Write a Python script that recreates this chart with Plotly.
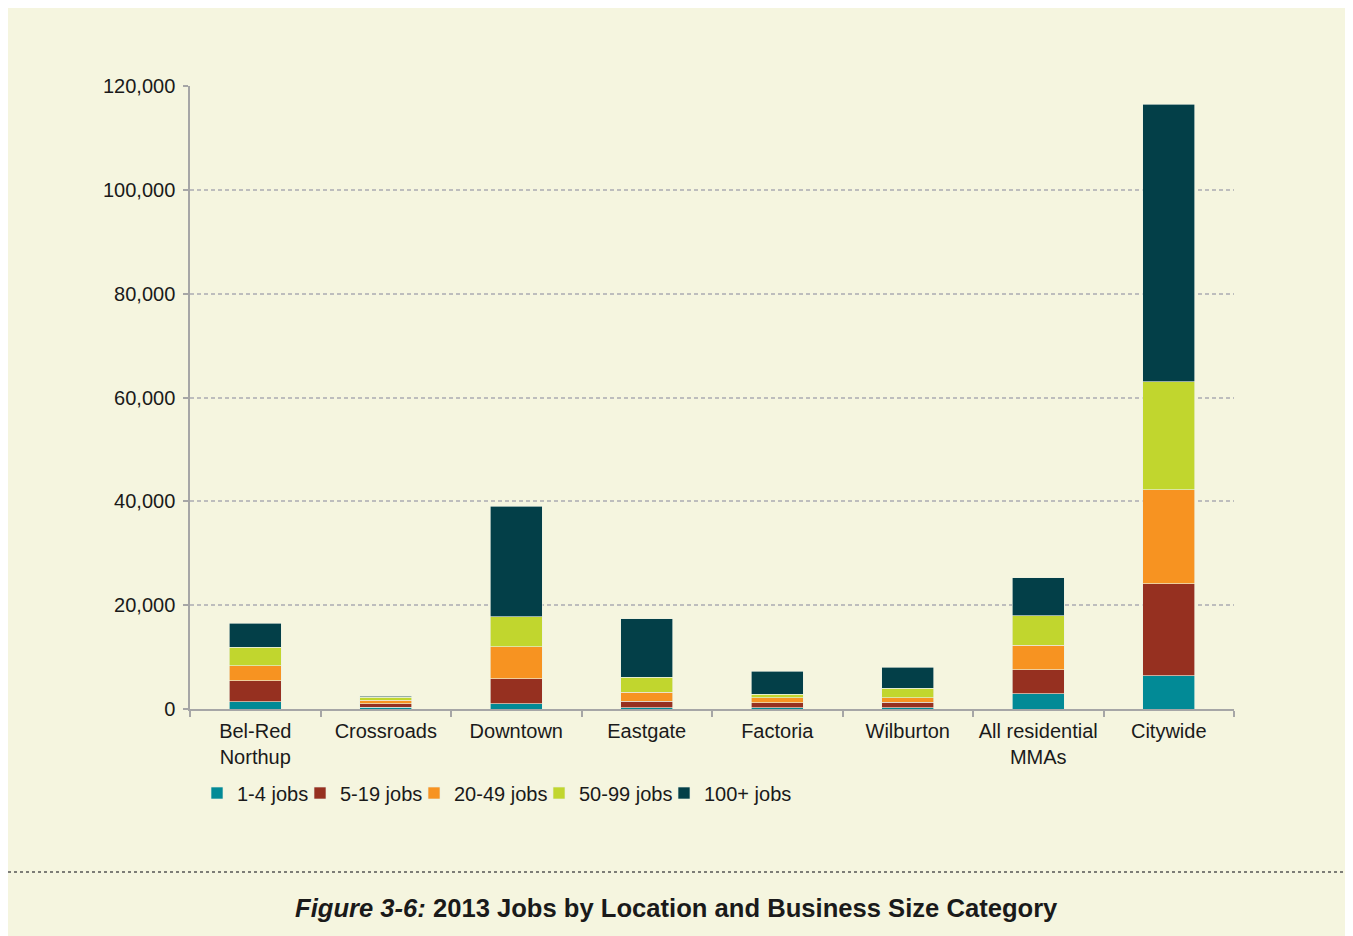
import plotly.graph_objects as go

categories = ["Bel-Red<br>Northup", "Crossroads", "Downtown", "Eastgate", "Factoria",
              "Wilburton", "All residential<br>MMAs", "Citywide"]

jobs_1_4 = [1350, 330, 1030, 270, 270, 270, 2950, 6420]
jobs_5_19 = [4100, 700, 4760, 1270, 890, 1020, 4630, 17700]
jobs_20_49 = [2900, 700, 6230, 1730, 960, 830, 4690, 18100]
jobs_50_99 = [3500, 500, 5730, 2830, 710, 1870, 5730, 20800]
jobs_100_plus = [4700, 250, 21300, 11300, 4490, 4100, 7330, 53500]

series_names = ["1-4 jobs", "5-19 jobs", "20-49 jobs", "50-99 jobs", "100+ jobs"]
series_values = [jobs_1_4, jobs_5_19, jobs_20_49, jobs_50_99, jobs_100_plus]
series_colors = ["#028A96", "#963020", "#F79321", "#C1D62E", "#033F48"]

y_ticks = [0, 20000, 40000, 60000, 80000, 100000, 120000]

FONT = "Arial, 'Liberation Sans', sans-serif"
BEIGE = "#F5F5DF"

# figure geometry (pixels within the figure)
W, H = 1343, 928
L, R, T, B = 182, 1226, 78, 701
pw, ph = R - L, B - T

def px(x):
    return (x - L) / pw

def py(y):
    return (B - y) / ph

legend_text_starts = [226, 329, 443, 568, 693]
legend_keys = ["legend", "legend2", "legend3", "legend4", "legend5"]

fig = go.Figure()
for name, vals, col, lk in zip(series_names, series_values, series_colors, legend_keys):
    fig.add_trace(go.Bar(
        x=categories, y=vals, name=name, legend=lk,
        marker=dict(color=col, line=dict(color="rgba(235,240,225,0.8)", width=0.8)),
    ))

legend_layouts = {}
for lk, ts in zip(legend_keys, legend_text_starts):
    legend_layouts[lk] = dict(
        orientation="h", x=px(ts - 37), xanchor="left", y=py(785), yanchor="middle",
        font=dict(size=20, family=FONT, color="#1a1a1a"), bgcolor="rgba(0,0,0,0)",
        itemwidth=30,
    )

fig.update_layout(
    width=W, height=H,
    barmode="stack", bargap=0.6,
    paper_bgcolor=BEIGE, plot_bgcolor="rgba(0,0,0,0)",
    margin=dict(l=L, r=W - R, t=T, b=H - B, autoexpand=False),
    font=dict(family=FONT, size=20, color="#1a1a1a"),
    showlegend=True,
    xaxis=dict(
        showline=True, linecolor="#A6A6A6", linewidth=1.5,
        ticks="outside", tickson="boundaries", ticklen=6, tickcolor="#A6A6A6", tickwidth=1.5,
        showgrid=False, tickfont=dict(size=20), ticklabelstandoff=3,
    ),
    yaxis=dict(
        range=[0, 120000], tickvals=y_ticks, tickformat=",",
        showline=True, linecolor="#A6A6A6", linewidth=1.5,
        ticks="outside", ticklen=5, tickcolor="#A6A6A6", tickwidth=1.5,
        showgrid=True, gridcolor="#BDBDBD", griddash="4px,3px", gridwidth=1.5,
        zeroline=False, tickfont=dict(size=20), ticklabelstandoff=4,
    ),
    shapes=[
        dict(type="line", xref="paper", yref="paper",
             x0=px(0), x1=px(W), y0=py(864), y1=py(864),
             line=dict(color="#555555", width=1.5, dash="dot")),
    ],
    annotations=[
        dict(xref="paper", yref="paper", x=px(668), y=py(900), xanchor="center", yanchor="middle",
             showarrow=False,
             text="<b><i>Figure 3-6:</i> 2013 Jobs by Location and Business Size Category</b>",
             font=dict(family=FONT, size=25.6, color="#1a1a1a")),
    ],
    **legend_layouts,
)

fig.write_html("out.html")
